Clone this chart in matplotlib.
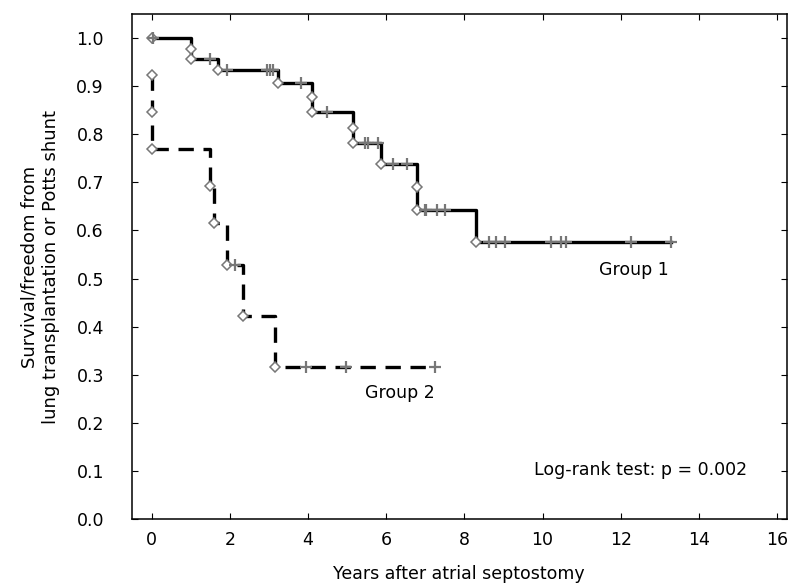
import matplotlib
matplotlib.use("Agg")
import matplotlib.pyplot as plt
import numpy as np

# Group 1: step times / survival levels (solid)
g1_t = [0.0, 1.0, 1.0, 1.70, 3.24, 4.11, 4.11, 5.14, 5.14, 5.88, 6.80, 6.80, 8.31]
g1_s = [1.0, 0.977, 0.955, 0.932, 0.907, 0.876, 0.845, 0.812, 0.782, 0.738, 0.691, 0.642, 0.575]
g1_end = 13.29
g1_cens = [0.04, 1.49, 1.92, 2.94, 3.02, 3.11, 3.83, 4.49, 5.45, 5.54, 5.79, 6.18, 6.53,
           6.99, 7.03, 7.29, 7.50, 8.62, 8.82, 9.03, 10.22, 10.48, 10.61, 12.27, 13.29]

# Group 2 (dashed)
g2_t = [0.0, 0.0, 0.0, 1.49, 1.60, 1.92, 2.34, 3.15]
g2_s = [0.923, 0.846, 0.769, 0.692, 0.616, 0.528, 0.422, 0.316]
g2_end = 7.24
g2_cens = [2.13, 3.96, 4.98, 7.24]


def level_at(t, times, levels):
    idx = np.searchsorted(times, t, side="right") - 1
    return levels[max(idx, 0)]


def draw_group(ax, times, levels, end, cens, dashed):
    xs, ys = [times[0]], [levels[0]]
    for t, s in zip(times[1:], levels[1:]):
        xs += [t, t]
        ys += [ys[-1], s]
    xs.append(end)
    ys.append(ys[-1])
    line, = ax.plot(xs, ys, color="black", lw=2.4, zorder=2)
    if dashed:
        line.set_dashes((4.6, 2.9))
    ax.plot(times, levels, ls="none", marker="D", ms=5.5, mfc="white",
            mec="#777777", mew=1.1, zorder=3)
    cy = [level_at(c, times, levels) for c in cens]
    ax.plot(cens, cy, ls="none", marker="+", ms=9, mec="#777777", mew=1.6, zorder=3)


fig = plt.figure(figsize=(7.98, 5.87), dpi=100)
ax = fig.add_axes([0.165, 0.115, 0.821, 0.861])

draw_group(ax, g1_t, g1_s, g1_end, g1_cens, False)
draw_group(ax, g2_t, g2_s, g2_end, g2_cens, True)

ax.set_xlim(-0.51, 16.25)
ax.set_ylim(0.0, 1.049)
ax.set_xticks(np.arange(0, 17, 2))
ax.set_yticks(np.arange(0, 1.01, 0.1))
ax.set_yticklabels([f"{v:.1f}" for v in np.arange(0, 1.01, 0.1)])
ax.tick_params(direction="in", length=4, top=True, right=True, labelsize=12.5,
               pad=8)
ax.tick_params(axis="y", pad=20)
for sp in ax.spines.values():
    sp.set_linewidth(1.1)

ax.text(12.35, 0.518, "Group 1", fontsize=12.5, ha="center", va="center")
ax.text(6.35, 0.262, "Group 2", fontsize=12.5, ha="center", va="center")
ax.text(12.5, 0.102, "Log-rank test: p = 0.002", fontsize=12.5, ha="center", va="center")

ax.set_ylabel("Survival/freedom from\nlung transplantation or Potts shunt", fontsize=13,
              labelpad=12)
ax.set_xlabel("Years after atrial septostomy", fontsize=12.5, labelpad=12)

fig.savefig("out.png", dpi=100)
